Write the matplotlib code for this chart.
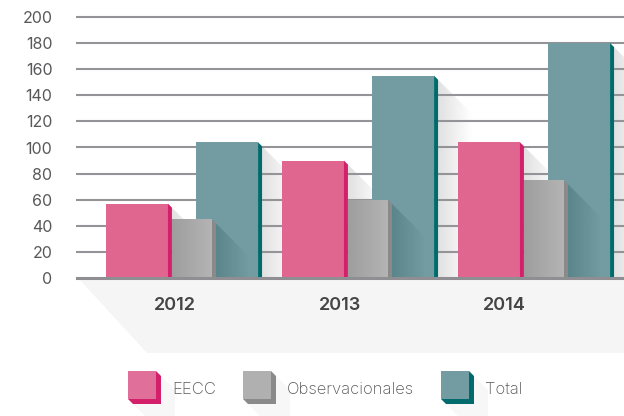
import numpy as np
import matplotlib
matplotlib.use("Agg")
import matplotlib.pyplot as plt
from matplotlib.patches import Polygon
from matplotlib.colors import to_rgb

# data
years = ["2012", "2013", "2014"]
series = ["EECC", "Observacionales", "Total"]
eecc = [57, 90, 104]
observacionales = [45, 60, 75]
total = [104, 155, 180]

W, H = 624, 416
PXX = 1 / 176          # x data units per pixel
PXY = 200 / 261        # y data units per pixel

plt.rcParams["font.family"] = ["Inter", "DejaVu Sans"]

fig = plt.figure(figsize=(6.24, 4.16), dpi=100)
y_bot = (H - (278 + 2 * 1.305)) / H
y_top = (H - (17 - 2 * 1.305)) / H
ax = fig.add_axes([76 / W, y_bot, 548 / W, y_top - y_bot])
ax.set_facecolor("none")


def gradient(ax, poly, c0, c1, a0, a1, z):
    xs = [p[0] for p in poly]
    ys = [p[1] for p in poly]
    t = np.linspace(0, 1, 256)[:, None]
    rgb = (1 - t) * np.array(to_rgb(c0)) + t * np.array(to_rgb(c1))
    alpha = (1 - t) * a0 + t * a1
    img = np.concatenate([rgb, alpha], axis=1)[None, :, :]
    im = ax.imshow(img, extent=(min(xs), max(xs), min(ys), max(ys)),
                   aspect="auto", origin="lower", zorder=z,
                   interpolation="bilinear")
    clip = Polygon(poly, closed=True, transform=ax.transData,
                   facecolor="none", edgecolor="none")
    im.set_clip_path(clip)


# figure pixel -> figure fraction
def fp(x, y):
    return (x / W, 1 - y / H)


# floor shadow below the baseline
floor = Polygon([fp(80, 280), fp(147, 353), fp(624, 353), fp(624, 280)],
                closed=True, transform=fig.transFigure,
                facecolor="#f5f5f5", edgecolor="none", zorder=-1)
fig.patches.append(floor)

# grid lines
for v in range(20, 201, 20):
    ax.axhline(v, color="#939398", lw=1.5, zorder=1)
ax.axhline(0, color="#8f8f93", lw=2.2, zorder=6)

x = np.arange(len(years))
e = 4 * PXX
ey = 4 * PXY
specs = [
    (eecc, -0.256, 0.375 - e, "#e0668f", "#d41f6b", 3, False),
    (observacionales, 0.045, 0.227, "#a9a9a9", "#8a8a8a", 4, True),
    (total, 0.256, 0.375 - e, "#729ca2", "#006a6c", 2, False),
]

for vals, off, w, face, edge, z, is_gray in specs:
    left = x + off - w / 2 - (0 if is_gray else e / 2)
    bars = ax.bar(left, vals, width=w, align="edge", color=face,
                  linewidth=0, zorder=z)
    for b, v in zip(bars, vals):
        xl = b.get_x()
        xr = xl + b.get_width()
        # darker side strip
        ax.add_patch(Polygon([(xr, v), (xr + e, v - ey), (xr + e, 0), (xr, 0)],
                             closed=True, facecolor=edge, edgecolor="none",
                             zorder=z))
        if is_gray:
            gradient(ax, [(xl, 0), (xr, 0), (xr, v), (xl, v)],
                     "#9e9e9e", "#b4b4b4", 1, 1, z + 0.1)
            # shadow thrown on the Total bar
            sw = 34 * PXX
            sh = 34 * PXY
            gradient(ax, [(xr + e, v - ey), (xr + e + sw, v - ey - sh),
                          (xr + e + sw, 0), (xr + e, 0)],
                     "#1d4a4e", "#1d4a4e", 0.28, 0.0, 2.5)
        else:
            sw = 34 * PXX
            sh = 34 * PXY
            gradient(ax, [(xr + e, v - ey), (xr + e + sw, v - ey - sh),
                          (xr + e + sw, 0), (xr + e, 0)],
                     "#9a9a9a", "#9a9a9a", 0.3, 0.0, 1.5)

ax.set_xlim(-(184 - 76) / 176, (624 - 184) / 176)
ax.set_ylim(-2, 202)

ax.set_yticks(range(0, 201, 20))
ax.set_yticklabels([str(v) for v in range(0, 201, 20)],
                   fontsize=11.5, color="#58585a")
ax.set_xticks(x - 0.05 - 0.065 * x)
ax.set_xticklabels(years, fontsize=13, color="#444444", fontweight="semibold")
ax.tick_params(axis="y", length=0, pad=17)
ax.tick_params(axis="x", length=0, pad=12)
for s in ax.spines.values():
    s.set_visible(False)

# legend with small 3d boxes
leg_x = [128, 243, 441]
faces = ["#e0709a", "#b0b0b0", "#729ca2"]
sides = ["#d41f6b", "#8a8a8a", "#006a6c"]
top, size, d = 371, 28, 5
for name, lx, fc, sc in zip(series, leg_x, faces, sides):
    shadow = Polygon([fp(lx + d, top + size + d), fp(lx + size + d, top + size + d),
                      fp(lx + size + d, top + d),
                      fp(lx + size + d + 14, top + d + 14),
                      fp(lx + size + d + 14, top + size + d + 14),
                      fp(lx + d + 14, top + size + d + 14)],
                     closed=True, transform=fig.transFigure,
                     facecolor="#f7f7f7", edgecolor="none")
    block = Polygon([fp(lx, top), fp(lx + size, top), fp(lx + size + d, top + d),
                     fp(lx + size + d, top + size + d), fp(lx + d, top + size + d),
                     fp(lx, top + size)],
                    closed=True, transform=fig.transFigure,
                    facecolor=sc, edgecolor="none")
    front = Polygon([fp(lx, top), fp(lx + size, top), fp(lx + size, top + size),
                     fp(lx, top + size)],
                    closed=True, transform=fig.transFigure,
                    facecolor=fc, edgecolor="none")
    fig.patches.extend([shadow, block, front])
    tx, ty = fp(lx + 44, 389)
    fig.text(tx, ty, name, fontsize=12, color="#58585a", va="center",
             ha="left", fontweight="light")

fig.savefig("out.png", dpi=100)
